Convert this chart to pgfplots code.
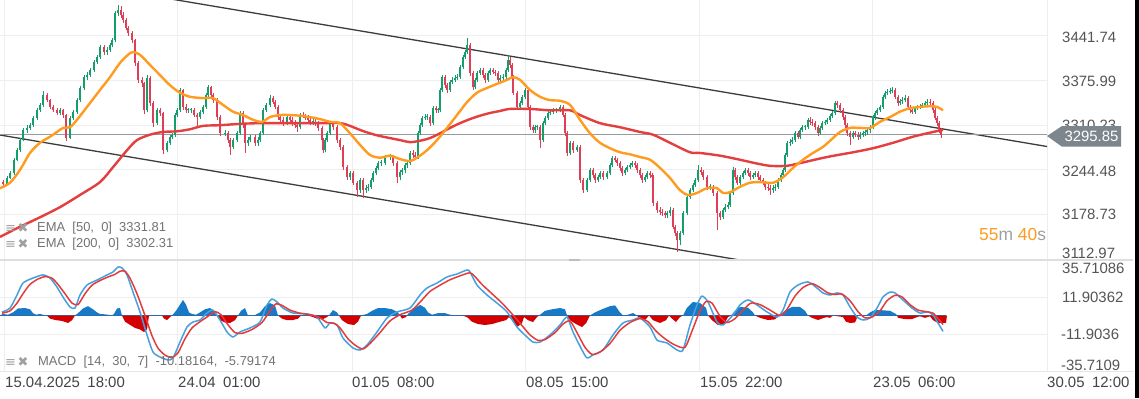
\documentclass[border=0pt]{standalone}
\usepackage{pgfplots}
\pgfplotsset{compat=1.18}
\usepackage{pgfplotstable}
\usepackage{fontspec}
\setmainfont{Liberation Sans}
\newfontfamily\djv{DejaVu Sans}
\definecolor{cgreen}{RGB}{20,158,108}
\definecolor{cred}{RGB}{222,62,86}
\definecolor{emaA}{RGB}{255,155,30}
\definecolor{emaB}{RGB}{228,62,62}
\definecolor{macdblue}{RGB}{70,160,222}
\definecolor{sigred}{RGB}{226,60,60}
\definecolor{histblue}{RGB}{22,122,198}
\definecolor{histred}{RGB}{212,0,0}
\definecolor{gridc}{RGB}{238,238,238}
\definecolor{lblc}{RGB}{85,85,85}
\definecolor{datec}{RGB}{68,68,68}
\definecolor{legc}{RGB}{115,115,115}
\definecolor{iconc}{RGB}{160,160,160}
\definecolor{tagc}{RGB}{124,134,140}
\definecolor{chanc}{RGB}{60,60,60}
\definecolor{pricel}{RGB}{150,156,160}
\newcommand\fs[1]{\fontsize{#1}{#1}\selectfont}

\pgfplotstableread{
x o c h l
3 3226 3223 3229 3219
7 3223 3232 3235 3221
10 3232 3239 3242 3230
14 3239 3259 3262 3237
17 3259 3273 3276 3257
20 3273 3288 3291 3271
23 3288 3303 3306 3286
27 3303 3306 3310 3299
30 3306 3310 3313 3303
33 3310 3321 3324 3307
37 3321 3332 3336 3318
40 3332 3340 3343 3329
43 3340 3355 3360 3337
47 3355 3347 3357 3344
50 3347 3337 3349 3334
53 3337 3332 3340 3329
57 3332 3328 3335 3325
60 3328 3332 3335 3325
63 3332 3325 3334 3321
66 3325 3291 3327 3286
70 3291 3321 3324 3289
73 3321 3330 3333 3318
77 3330 3347 3350 3327
80 3347 3365 3368 3344
84 3365 3381 3384 3362
87 3381 3384 3388 3377
90 3384 3392 3395 3381
94 3392 3403 3406 3389
97 3403 3411 3414 3400
100 3411 3425 3428 3408
104 3425 3418 3429 3414
107 3418 3421 3425 3414
110 3421 3428 3432 3418
112 3428 3436 3439 3425
115 3436 3476 3479 3433
118 3476 3480 3488 3472
121 3480 3473 3486 3469
123 3473 3465 3477 3461
126 3465 3454 3468 3450
128 3454 3446 3457 3442
132 3446 3436 3449 3432
135 3436 3402 3438 3398
138 3402 3377 3405 3372
142 3377 3372 3381 3366
144 3372 3332 3374 3327
147 3332 3380 3384 3329
150 3380 3343 3383 3339
153 3343 3313 3346 3308
157 3313 3332 3336 3310
160 3332 3328 3336 3324
163 3328 3273 3330 3268
167 3273 3284 3287 3270
170 3284 3293 3296 3281
172 3293 3296 3299 3290
175 3296 3325 3328 3293
177 3325 3332 3336 3322
180 3332 3362 3365 3329
183 3362 3337 3364 3333
186 3337 3332 3341 3328
188 3332 3332 3336 3328
191 3332 3332 3336 3328
194 3332 3325 3335 3322
197 3325 3322 3328 3307
200 3322 3330 3333 3319
203 3330 3337 3340 3327
206 3337 3355 3358 3334
208 3355 3366 3369 3352
211 3366 3355 3368 3351
213 3355 3347 3358 3343
217 3347 3322 3350 3318
220 3322 3298 3325 3294
225 3298 3298 3303 3294
228 3298 3288 3301 3284
230 3288 3278 3291 3266
233 3278 3288 3291 3275
237 3288 3298 3301 3285
240 3298 3328 3331 3295
243 3328 3310 3331 3306
245 3310 3284 3313 3269
248 3284 3288 3292 3280
250 3288 3293 3296 3285
255 3293 3284 3296 3280
258 3284 3288 3292 3280
260 3288 3298 3301 3285
263 3298 3332 3335 3295
266 3332 3340 3343 3329
270 3340 3350 3354 3337
273 3350 3344 3353 3341
275 3344 3337 3347 3334
278 3337 3322 3340 3318
280 3322 3318 3326 3314
283 3318 3313 3322 3309
287 3313 3322 3325 3310
290 3322 3318 3326 3314
292 3318 3313 3322 3309
295 3313 3310 3317 3306
297 3310 3307 3314 3300
300 3307 3325 3328 3304
303 3325 3324 3329 3320
305 3324 3321 3327 3317
308 3321 3318 3325 3314
310 3318 3315 3322 3311
313 3315 3315 3319 3311
315 3315 3313 3319 3309
318 3313 3306 3316 3302
322 3306 3288 3309 3284
323 3288 3273 3291 3269
325 3273 3288 3291 3270
327 3288 3298 3301 3285
330 3298 3313 3316 3295
333 3313 3307 3316 3303
337 3307 3288 3310 3284
340 3288 3278 3291 3274
343 3278 3248 3281 3244
347 3248 3233 3251 3229
350 3233 3239 3243 3229
353 3239 3225 3242 3221
357 3225 3214 3228 3204
360 3214 3229 3232 3210
363 3229 3214 3232 3202
366 3214 3217 3221 3210
368 3217 3219 3223 3213
371 3219 3229 3232 3216
373 3229 3239 3242 3226
376 3239 3247 3250 3236
378 3247 3254 3257 3244
381 3254 3254 3258 3250
385 3254 3263 3266 3251
390 3263 3263 3267 3259
393 3263 3254 3266 3250
397 3254 3233 3257 3224
400 3233 3241 3244 3229
402 3241 3244 3247 3237
405 3244 3251 3254 3240
407 3251 3254 3257 3247
410 3254 3269 3272 3251
413 3269 3266 3273 3262
415 3266 3263 3270 3259
418 3263 3298 3301 3260
420 3298 3310 3313 3295
422 3310 3321 3324 3307
425 3321 3322 3326 3317
427 3322 3322 3326 3318
430 3322 3313 3325 3309
433 3313 3335 3338 3310
436 3335 3332 3339 3328
438 3332 3332 3336 3328
440 3332 3362 3365 3329
442 3362 3381 3384 3359
445 3381 3369 3384 3365
447 3369 3362 3372 3358
450 3362 3374 3377 3359
452 3374 3377 3381 3371
455 3377 3380 3384 3374
457 3380 3381 3385 3377
460 3381 3396 3399 3378
463 3396 3411 3414 3393
465 3411 3418 3421 3408
467 3418 3428 3439 3415
470 3428 3387 3431 3383
473 3387 3366 3390 3362
475 3366 3377 3380 3363
477 3377 3387 3390 3374
480 3387 3392 3395 3384
483 3392 3384 3395 3380
485 3384 3377 3387 3373
488 3377 3387 3390 3374
490 3387 3392 3395 3384
493 3392 3389 3395 3385
495 3389 3387 3392 3383
498 3387 3377 3390 3373
500 3377 3380 3384 3374
503 3380 3381 3385 3377
506 3381 3392 3395 3378
508 3392 3406 3413 3389
510 3406 3399 3410 3395
512 3399 3381 3402 3377
513 3381 3358 3384 3354
517 3358 3337 3361 3333
520 3337 3343 3346 3334
522 3343 3352 3355 3340
525 3352 3362 3365 3349
528 3362 3337 3365 3333
530 3337 3307 3340 3303
533 3307 3303 3311 3299
535 3303 3307 3311 3299
537 3307 3307 3311 3303
540 3307 3288 3310 3276
543 3288 3313 3316 3285
545 3313 3321 3324 3310
548 3321 3328 3331 3318
550 3328 3330 3333 3325
553 3330 3332 3336 3327
556 3332 3332 3336 3328
560 3332 3337 3340 3329
563 3337 3325 3340 3322
565 3325 3298 3328 3294
567 3298 3269 3301 3265
570 3269 3284 3287 3266
573 3284 3273 3287 3269
577 3273 3278 3281 3270
580 3278 3229 3281 3225
583 3229 3214 3232 3210
587 3214 3229 3232 3211
590 3229 3244 3247 3226
593 3244 3236 3247 3232
595 3236 3229 3239 3225
598 3229 3233 3237 3226
600 3233 3239 3242 3230
603 3239 3233 3242 3229
607 3233 3239 3242 3230
610 3239 3251 3254 3236
612 3251 3262 3265 3248
615 3262 3259 3265 3255
617 3259 3254 3262 3250
620 3254 3247 3257 3243
622 3247 3239 3250 3235
625 3239 3244 3247 3236
627 3244 3248 3251 3241
630 3248 3251 3254 3245
632 3251 3254 3257 3248
635 3254 3251 3257 3247
637 3251 3244 3254 3240
640 3244 3236 3247 3232
642 3236 3229 3239 3225
645 3229 3233 3237 3226
647 3233 3239 3242 3230
650 3239 3236 3242 3232
652 3236 3233 3240 3229
653 3233 3195 3236 3191
657 3195 3185 3198 3181
660 3185 3182 3189 3178
662 3182 3180 3186 3176
665 3180 3177 3184 3173
667 3177 3180 3184 3173
670 3180 3185 3189 3176
673 3185 3160 3188 3156
675 3160 3151 3163 3147
677 3151 3140 3154 3123
680 3140 3151 3154 3133
683 3151 3180 3183 3148
687 3180 3204 3207 3177
690 3204 3214 3217 3201
693 3214 3222 3225 3211
695 3222 3229 3232 3219
698 3229 3244 3251 3226
701 3244 3241 3248 3237
703 3241 3233 3244 3229
707 3233 3219 3236 3215
710 3219 3219 3223 3215
713 3219 3210 3222 3206
717 3210 3180 3213 3155
720 3180 3174 3184 3170
723 3174 3185 3188 3171
725 3185 3189 3193 3182
728 3189 3192 3196 3186
730 3192 3210 3213 3189
733 3210 3244 3248 3207
735 3244 3233 3247 3229
737 3233 3225 3236 3221
740 3225 3233 3237 3222
743 3233 3239 3242 3230
745 3239 3244 3247 3236
748 3244 3239 3247 3235
750 3239 3233 3242 3229
753 3233 3236 3240 3230
755 3236 3239 3242 3233
758 3239 3233 3242 3229
760 3233 3229 3236 3225
763 3229 3225 3232 3221
765 3225 3219 3228 3215
768 3219 3217 3223 3213
770 3217 3214 3221 3207
773 3214 3217 3221 3210
775 3217 3219 3223 3213
778 3219 3229 3232 3216
781 3229 3236 3239 3226
783 3236 3244 3247 3233
785 3244 3266 3269 3241
787 3266 3284 3287 3263
790 3284 3285 3289 3280
792 3285 3288 3292 3282
795 3288 3298 3301 3285
798 3298 3293 3301 3289
800 3293 3303 3306 3290
802 3303 3307 3311 3300
805 3307 3307 3311 3303
808 3307 3318 3321 3304
810 3318 3315 3322 3311
812 3315 3313 3319 3309
815 3313 3307 3316 3303
818 3307 3298 3310 3294
820 3298 3306 3309 3295
822 3306 3313 3316 3303
825 3313 3315 3318 3310
827 3315 3318 3321 3312
830 3318 3324 3327 3315
832 3324 3328 3331 3321
835 3328 3343 3346 3325
837 3343 3340 3346 3336
840 3340 3332 3343 3328
843 3332 3322 3335 3318
845 3322 3310 3325 3306
847 3310 3298 3313 3294
850 3298 3293 3301 3281
853 3293 3298 3301 3289
855 3298 3296 3301 3292
858 3296 3293 3300 3288
860 3293 3296 3300 3289
863 3296 3298 3302 3292
865 3298 3300 3303 3294
867 3300 3303 3306 3296
870 3303 3307 3310 3299
873 3307 3322 3325 3304
875 3322 3328 3331 3318
877 3328 3332 3336 3325
880 3332 3337 3340 3329
883 3337 3352 3355 3334
885 3352 3358 3361 3349
887 3358 3359 3363 3354
890 3359 3361 3365 3356
892 3361 3362 3366 3357
895 3362 3352 3365 3348
898 3352 3343 3355 3339
900 3343 3346 3349 3340
902 3346 3347 3351 3342
905 3347 3350 3354 3344
908 3350 3337 3353 3333
910 3337 3332 3340 3328
912 3332 3330 3336 3326
915 3330 3335 3338 3327
917 3335 3337 3340 3332
920 3337 3338 3341 3334
922 3338 3340 3343 3335
925 3340 3343 3346 3337
927 3343 3344 3348 3340
930 3344 3343 3348 3339
933 3343 3332 3346 3328
935 3332 3321 3335 3317
937 3321 3313 3324 3309
939 3313 3303 3316 3298
941 3303 3296 3306 3291
}\candles

\pgfplotstableread{
x v
0 0
3 1.0
8 0.5
13 2.0
18 4.5
25 4.8
30 4.0
33 1.5
36 0.5
40 1.0
44 0.3
47 0
50 -2.0
56 -3.0
62 -3.5
68 -4.8
72 -3.0
75 0
78 1.5
83 4.5
88 6.0
93 4.0
97 2.0
100 1.0
104 0.8
108 0.5
112 0
114 1.0
117 4.5
120 4.8
122 0
125 -4.0
130 -6.0
135 -8.0
140 -9.0
144 -10.6
147 -9.0
149 0
162 0
164 -2.0
167 -2.9
170 -1.0
172 0
176 3.0
180 7.0
183 10.0
186 7.0
189 2.0
192 1.0
196 0.5
200 2.0
205 4.0
210 4.8
214 3.0
217 0
220 -3.0
225 -4.5
230 -4.8
235 -3.0
238 0
241 3.0
245 4.8
248 0
255 0.3
260 2.0
265 6.0
270 8.0
275 6.5
278 0
282 -2.0
287 -3.0
293 -2.9
298 -2.0
301 0
308 0
313 -1.0
318 -2.3
323 -2.3
327 -1.0
329 0
330 1.0
333 3.5
337 2.0
339 0
342 -3.0
348 -5.5
354 -6.1
358 -4.0
361 0
367 1.0
372 3.0
378 4.8
385 4.8
392 4.0
398 2.0
400 0
402 -2.0
406 -1.0
407 0
408 1.0
413 4.0
420 6.8
425 5.0
428 2.0
432 0.5
438 1.5
445 1.5
450 0.5
455 0
462 0
467 -1.0
472 -4.0
478 -5.5
485 -6.1
492 -5.5
500 -4.0
506 -3.0
509 -1.0
512 -3.0
517 -7.4
522 -5.0
524 -1.0
528 -3.0
533 -4.2
537 -1.0
539 0
540 0.5
545 3.0
552 4.0
560 4.8
565 4.0
567 0
570 -3.0
576 -5.5
582 -7.4
586 -5.0
590 0
595 2.0
602 4.0
610 6.0
615 6.5
620 2.0
623 0
628 0.5
633 1.6
637 0
640 -2.0
645 -2.9
649 0
653 -3.0
660 -4.8
666 -3.0
669 0
672 -2.0
676 -4.2
680 -1.0
683 0
687 5.0
693 8.7
700 8.0
706 5.0
708 0
712 -3.0
718 -6.1
724 -5.5
728 -1.0
731 0
735 3.0
740 5.5
748 5.0
753 2.0
755 0
760 -1.5
768 -2.9
775 -2.5
779 0
780 0.5
785 3.0
792 5.5
800 5.5
805 3.0
808 0
812 -1.5
818 -2.9
824 -1.5
827 -1.0
830 -1.5
833 0
843 -1.0
846 -4.0
850 -4.8
855 -4.5
858 0
866 0
870 2.0
875 3.5
880 3.5
890 3.0
896 1.0
897 0
898 -1.5
905 -2.3
912 -2.3
917 -1.0
920 -0.5
925 -1.5
930 -0.5
933 -3.0
938 -4.8
946 -4.8
947 0
}\hist

\pgfplotsset{
  wick/.style={draw=none, mark=none, forget plot, restrict y to domain=3000:3600,
    error bars/.cd, y dir=plus, y explicit, error mark=none,
    error bar style={draw=#1, line width=0.7bp}},
  body/.style={draw=none, mark=none, forget plot, restrict y to domain=3000:3600,
    error bars/.cd, y dir=plus, y explicit, error mark=none,
    error bar style={draw=#1, line width=1.7bp}},
}

\begin{document}
\begin{tikzpicture}[x=1bp,y=1bp]
\fill[white] (0,0) rectangle (1139,398);

% ---------------- price panel ----------------
\begin{axis}[at={(0bp,139bp)}, anchor=south west, scale only axis,
  width=1047bp, height=259bp,
  xmin=0, xmax=1047, ymin=3112.4, ymax=3494.9,
  axis line style={draw=none}, major tick length=0pt,
  xtick={4,177,352,525,699,872,1047}, xticklabels={},
  ytick={3178.73,3244.48,3310.23,3375.99,3441.74}, yticklabels={},
  grid=major, major grid style={draw=gridc, line width=1bp}]

% channel lines
\addplot[chanc, line width=1.3bp, forget plot] coordinates {(100,3514.0) (1050,3277.8)};
\addplot[chanc, line width=1.3bp, forget plot] coordinates {(0,3295.5) (1047,3034.2)};
% current price line
\addplot[pricel, line width=1bp, forget plot] coordinates {(0,3295.85) (1047,3295.85)};

% candles
\addplot[wick=cgreen] table[x=x, y expr={(\thisrow{c}<\thisrow{o}) ? -1 : \thisrow{l}}, y error plus expr={\thisrow{h}-\thisrow{l}}] {\candles};
\addplot[wick=cred] table[x=x, y expr={(\thisrow{c}<\thisrow{o}) ? \thisrow{l} : -1}, y error plus expr={\thisrow{h}-\thisrow{l}}] {\candles};
\addplot[body=cgreen] table[x=x, y expr={(\thisrow{c}<\thisrow{o}) ? -1 : \thisrow{o}}, y error plus expr={max(\thisrow{c}-\thisrow{o},1.2)}] {\candles};
\addplot[body=cred] table[x=x, y expr={(\thisrow{c}<\thisrow{o}) ? \thisrow{c} : -1}, y error plus expr={\thisrow{o}-\thisrow{c}}] {\candles};

% EMA 200
\addplot[emaB, line width=2.4bp, smooth, tension=0.5] coordinates {
(0,3145) (20,3160) (40,3174) (60,3189) (80,3207) (100,3226) (113,3248) (127,3273) (137,3288) (150,3296) (163,3300) (177,3301) (190,3304) (203,3309) (220,3310) (240,3312) (260,3313) (280,3313) (300,3313) (320,3313) (340,3313) (350,3309) (360,3303) (370,3298) (380,3294) (400,3288) (410,3285) (420,3287) (430,3291) (440,3298) (450,3306) (460,3313) (470,3319) (480,3324) (490,3328) (500,3331) (510,3334) (530,3334) (550,3332) (570,3332) (580,3325) (600,3313) (620,3307) (640,3300) (653,3296) (670,3284) (690,3270) (700,3269) (720,3265) (740,3259) (755,3254) (770,3250) (787,3250) (800,3254) (827,3263) (853,3270) (873,3276) (893,3284) (913,3293) (933,3300) (943,3303)};
% EMA 50
\addplot[emaA, line width=2.4bp, smooth, tension=0.5] coordinates {
(0,3217) (10,3225) (20,3244) (30,3269) (40,3284) (50,3293) (57,3300) (63,3306) (70,3307) (77,3318) (87,3337) (100,3362) (110,3381) (120,3402) (128,3414) (133,3418) (140,3414) (150,3399) (160,3384) (170,3369) (180,3358) (190,3352) (203,3350) (213,3350) (223,3340) (233,3330) (243,3325) (253,3318) (262,3315) (270,3322) (280,3325) (290,3325) (300,3324) (310,3322) (320,3319) (330,3315) (340,3313) (350,3298) (360,3281) (370,3266) (380,3262) (390,3265) (400,3260) (410,3257) (417,3262) (427,3273) (437,3288) (447,3306) (457,3325) (467,3344) (477,3358) (487,3365) (497,3371) (507,3377) (513,3381) (520,3377) (530,3362) (540,3352) (550,3347) (560,3346) (570,3340) (580,3318) (590,3298) (600,3284) (610,3276) (620,3270) (630,3267) (640,3263) (650,3259) (660,3247) (670,3232) (680,3214) (688,3207) (697,3210) (707,3217) (717,3217) (723,3210) (730,3211) (740,3219) (750,3225) (760,3226) (773,3225) (783,3233) (793,3247) (803,3259) (813,3269) (823,3278) (833,3291) (840,3300) (850,3306) (860,3306) (870,3306) (880,3315) (890,3322) (900,3330) (910,3335) (920,3337) (930,3338) (937,3337) (943,3332)};
\end{axis}

% ---------------- MACD panel ----------------
\begin{axis}[at={(0bp,27bp)}, anchor=south west, scale only axis,
  width=1047bp, height=111bp,
  xmin=0, xmax=1047, ymin=-35.71086, ymax=35.71086,
  axis line style={draw=none}, major tick length=0pt,
  xtick={4,177,352,525,699,872,1047}, xticklabels={},
  ytick={-11.90362,11.90362}, yticklabels={},
  grid=major, major grid style={draw=gridc, line width=1bp}]
\addplot[histblue, line width=0.8bp, forget plot] coordinates {(0,0) (946,0)};
\addplot[fill=histblue, draw=none, forget plot] table[x=x, y expr={max(\thisrow{v},0)}] {\hist} \closedcycle;
\addplot[fill=histred, draw=none, forget plot] table[x=x, y expr={min(\thisrow{v},0)}] {\hist} \closedcycle;
% MACD line
\addplot[macdblue, line width=1.5bp, smooth, tension=0.4] coordinates {
(2,2.2) (10,4.8) (17,13.2) (23,20.9) (33,24.1) (43,26.1) (50,24.1) (57,18.3) (63,11.9) (70,5.5) (75,4.8) (80,13.2) (87,19.6) (97,22.8) (107,26.1) (113,28.0) (118,31.2) (122,30.6) (127,26.1) (133,15.1) (140,2.3) (147,-12.5) (153,-23.5) (160,-26.7) (168,-28.6) (173,-27.3) (180,-17.1) (187,-7.4) (193,-4.2) (200,-2.9) (207,1.6) (213,3.5) (220,-2.9) (227,-10.6) (233,-13.8) (240,-10.6) (250,-8.0) (260,-4.2) (267,6.8) (272,10.6) (277,8.7) (283,4.8) (293,1.6) (307,1.0) (317,-1.0) (325,-8.0) (330,-4.8) (337,-6.1) (343,-14.5) (353,-20.9) (360,-22.2) (367,-19.0) (377,-10.6) (387,-1.6) (397,2.3) (410,4.8) (420,13.2) (427,17.7) (437,20.9) (447,24.8) (457,26.7) (467,29.3) (470,28.0) (477,19.6) (487,13.2) (497,8.0) (507,2.3) (517,-7.4) (527,-13.8) (533,-17.1) (540,-17.1) (550,-12.5) (560,-6.1) (567,-1.0) (573,-10.6) (582,-22.2) (587,-27.3) (593,-25.4) (603,-22.2) (613,-12.5) (623,-4.8) (633,-2.9) (640,-1.6) (650,-7.4) (657,-15.8) (667,-17.7) (677,-22.2) (683,-22.2) (690,-6.1) (697,6.8) (702,12.5) (708,8.7) (717,-4.2) (723,-6.1) (733,0.3) (740,6.8) (748,10.0) (757,6.8) (767,2.3) (777,-1.0) (783,3.5) (790,15.1) (798,19.6) (808,21.6) (817,17.7) (823,14.5) (830,13.2) (837,14.5) (843,13.2) (850,5.5) (857,-1.0) (863,-2.9) (870,-1.6) (877,4.8) (883,11.9) (890,15.1) (895,14.5) (903,10.0) (912,4.8) (920,1.6) (928,2.3) (933,0.3) (938,-4.8) (943,-10.2)};
% signal line
\addplot[sigred, line width=1.5bp, smooth, tension=0.4] coordinates {
(2,1.5) (10,3) (17,8) (23,14) (30,20) (38,23.5) (45,25) (52,24) (58,20) (65,14) (72,8) (78,7) (85,14) (92,19.5) (100,22.5) (108,24.8) (115,26.5) (120,28.5) (125,28.5) (130,24) (137,14) (145,0) (152,-13) (158,-21) (165,-25.5) (172,-27) (178,-24) (185,-15) (192,-8) (200,-4) (208,-0.5) (215,2.5) (221,0.5) (228,-6) (235,-11) (242,-11.5) (252,-9) (262,-4.5) (270,3) (276,7.5) (282,6.5) (290,3.5) (300,1.5) (312,0.3) (320,-1.5) (327,-4.5) (334,-5) (340,-8) (348,-15) (356,-19.5) (363,-21.5) (370,-18) (380,-11) (390,-3.5) (400,0.5) (412,3.5) (422,10) (430,15.5) (440,19.5) (450,23) (460,25.5) (470,27.5) (475,25) (482,20) (492,14) (502,8) (512,1) (522,-6.5) (530,-12.5) (538,-16) (545,-15.5) (555,-11) (563,-5.5) (570,-3.5) (577,-11) (585,-20.5) (592,-25) (600,-23.5) (610,-18) (620,-9.5) (630,-4.5) (640,-2) (648,-4) (656,-10) (665,-15) (675,-19) (685,-20.5) (692,-10) (700,3) (706,9) (712,8) (720,-0.5) (727,-4.5) (735,-2) (743,3.5) (751,8) (760,7) (770,3.5) (780,0) (787,4) (795,12.5) (803,18) (812,20.5) (820,18) (828,14.5) (835,13.5) (842,13.8) (850,9.5) (858,2.5) (865,-1.5) (872,-1) (880,3) (887,9.5) (895,13) (902,12) (910,7) (918,3.5) (926,2.5) (933,1.5) (938,-2) (943,-5.8)};
\end{axis}

% separators
\draw[draw={rgb,255:red,222;green,222;blue,222}, line width=2bp] (0,138.5) -- (1133,138.5);
\draw[draw={rgb,255:red,190;green,190;blue,190}, line width=2bp] (569,138.5) -- (580,138.5);
\draw[draw={rgb,255:red,230;green,230;blue,230}, line width=1bp] (0,26.5) -- (1133,26.5);

% legends
\node[anchor=west, inner sep=0pt, text=iconc] at (5,170) {\djv\fs{13}≡\hspace{1.5bp}✖};
\node[anchor=west, inner sep=0pt, text=legc] at (37,170) {\fs{13}EMA \ [50, \ 0] \ 3331.81};
\node[anchor=west, inner sep=0pt, text=iconc] at (5,154) {\djv\fs{13}≡\hspace{1.5bp}✖};
\node[anchor=west, inner sep=0pt, text=legc] at (37,154) {\fs{13}EMA \ [200, \ 0] \ 3302.31};
\node[anchor=west, inner sep=0pt, text=iconc] at (5,36) {\djv\fs{13}≡\hspace{1.5bp}✖};
\node[anchor=west, inner sep=0pt, text=legc] at (38,36) {\fs{13}MACD \ [14, \ 30, \ 7] \ -10.18164, \ -5.79174};

% countdown
\node[anchor=west, inner sep=0pt] at (979,164) {\fs{17.5}\textcolor{emaA}{55}\textcolor{iconc}{m} \textcolor{emaA}{40}\textcolor{iconc}{s}};

% right axis labels (price)
\node[anchor=west, inner sep=0pt, text=lblc] at (1062,361) {\fs{15}3441.74};
\node[anchor=west, inner sep=0pt, text=lblc] at (1062,317) {\fs{15}3375.99};
\node[anchor=west, inner sep=0pt, text=lblc] at (1062,273) {\fs{15}3310.23};
\node[anchor=west, inner sep=0pt, text=lblc] at (1062,227) {\fs{15}3244.48};
\node[anchor=west, inner sep=0pt, text=lblc] at (1062,184) {\fs{15}3178.73};
\node[anchor=west, inner sep=0pt, text=lblc] at (1062,145) {\fs{15}3112.97};
% current price tag
\fill[tagc] (1047,262) -- (1062,272) -- (1121,272) -- (1121,251.3) -- (1062,251.3) -- cycle;
\node[inner sep=0pt, text=white] at (1091.5,261.5) {\fs{15}3295.85};
% MACD labels
\node[anchor=west, inner sep=0pt, text=lblc] at (1062,130) {\fs{15}35.71086};
\node[anchor=west, inner sep=0pt, text=lblc] at (1062,101) {\fs{15}11.90362};
\node[anchor=west, inner sep=0pt, text=lblc] at (1061,64) {\fs{15}-11.9036};
\node[anchor=west, inner sep=0pt, text=lblc] at (1061,33) {\fs{15}-35.7109};

% date labels
\node[anchor=west, inner sep=0pt, text=datec] at (5,16) {\fs{15}15.04.2025\hspace{0.5em}18:00};
\node[anchor=west, inner sep=0pt, text=datec] at (178,16) {\fs{15}24.04\hspace{0.5em}01:00};
\node[anchor=west, inner sep=0pt, text=datec] at (352,16) {\fs{15}01.05\hspace{0.5em}08:00};
\node[anchor=west, inner sep=0pt, text=datec] at (526,16) {\fs{15}08.05\hspace{0.5em}15:00};
\node[anchor=west, inner sep=0pt, text=datec] at (700,16) {\fs{15}15.05\hspace{0.5em}22:00};
\node[anchor=west, inner sep=0pt, text=datec] at (873,16) {\fs{15}23.05\hspace{0.5em}06:00};
\node[anchor=west, inner sep=0pt, text=datec] at (1047,16) {\fs{15}30.05\hspace{0.5em}12:00};

% right black strip
\fill[black] (1135,0) rectangle (1139,398);

\pgfresetboundingbox
\path[use as bounding box] (0,0) rectangle (1139,398);
\end{tikzpicture}
\end{document}
